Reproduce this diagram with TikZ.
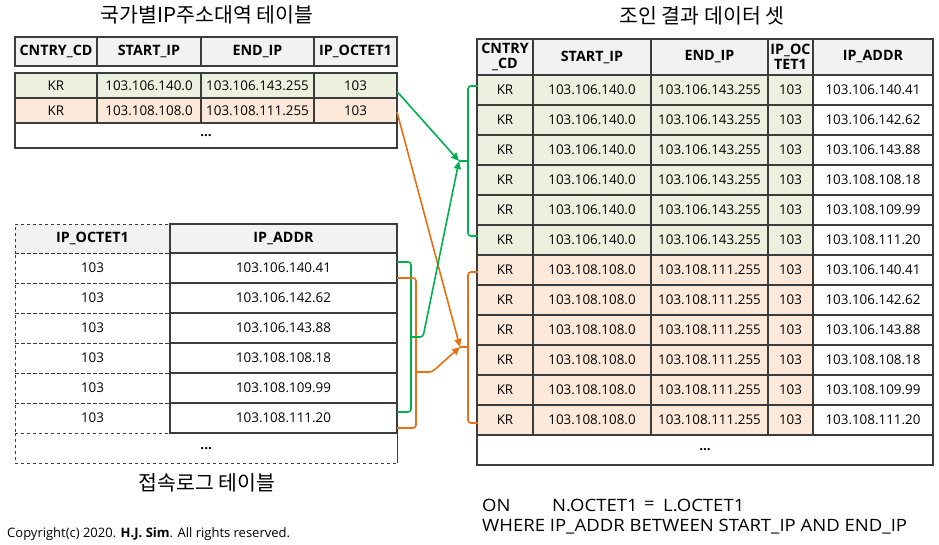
\documentclass[tikz,border=0pt]{standalone}
\usepackage{fontspec}
\setmainfont{Open Sans}
\newfontfamily\kr{Noto Sans CJK KR}
\newfontfamily\widefont{Open Sans}[FakeStretch=1.09]
\usetikzlibrary{arrows.meta,calc}
\definecolor{gfill}{RGB}{235,241,222}
\definecolor{ofill}{RGB}{253,233,217}
\definecolor{hfill}{RGB}{242,242,242}
\definecolor{gline}{RGB}{0,176,80}
\definecolor{oline}{RGB}{232,112,20}
\definecolor{bord}{RGB}{60,60,60}
\tikzset{
 cell/.style={draw=bord, line width=1.3pt, inner sep=0pt, outer sep=0pt, anchor=north west, font=\fontsize{13.4}{14}\selectfont, align=center},
 hcell/.style={cell, fill=hfill, font=\fontsize{14.3}{15}\selectfont\bfseries},
 dcell/.style={cell, dashed, line width=1pt},
 conn/.style={line width=1.6pt, rounded corners=3pt},
 tip/.style={-{Triangle[length=8pt,width=7pt]}},
 ktitle/.style={font=\kr\fontsize{20.5}{22}\selectfont},
 sqltext/.style={anchor=west, inner sep=0pt, font=\widefont\fontsize{17}{19}\selectfont},
}
\newcommand\cellbox[6]{\node[#1, minimum width=#4pt, minimum height=#5pt] (#2) at (#3) {#6};}
\begin{document}
\begin{tikzpicture}[x=1pt,y=-1pt]
\useasboundingbox[fill=white] (0,0) rectangle (939,544);
% ---------- top-left table ----------
\node[ktitle] (t1title) at (207,15) {국가별IP주소대역 테이블};
\cellbox{hcell}{ah1}{15,37}{82}{29}{CNTRY\_CD}
\cellbox{hcell}{ah2}{97,37}{104}{29}{START\_IP}
\cellbox{hcell}{ah3}{201,37}{113}{29}{END\_IP}
\cellbox{hcell}{ah4}{314,37}{83}{29}{IP\_OCTET1}
\cellbox{cell,fill=gfill}{aa1}{15,73}{82}{25}{KR}
\cellbox{cell,fill=gfill}{aa2}{97,73}{104}{25}{103.106.140.0}
\cellbox{cell,fill=gfill}{aa3}{201,73}{113}{25}{103.106.143.255}
\cellbox{cell,fill=gfill}{aa4}{314,73}{83}{25}{103}
\cellbox{cell,fill=ofill}{ab1}{15,98}{82}{25}{KR}
\cellbox{cell,fill=ofill}{ab2}{97,98}{104}{25}{103.108.108.0}
\cellbox{cell,fill=ofill}{ab3}{201,98}{113}{25}{103.108.111.255}
\cellbox{cell,fill=ofill}{ab4}{314,98}{83}{25}{103}
\cellbox{cell}{adots}{15,123}{382}{25}{\textbf{...}}
% ---------- bottom-left table ----------
\cellbox{dcell,fill=hfill,font=\fontsize{14.3}{15}\selectfont\bfseries}{bh1}{15,224}{155}{29}{IP\_OCTET1}
\foreach \i in {0,...,5}{
  \cellbox{dcell}{bl\i}{15,253+30*\i}{155}{30}{103}
}
\node[inner sep=0pt, minimum width=382pt, minimum height=30pt, anchor=north west, font=\fontsize{13.4}{14}\selectfont] (bdots) at (15,433) {\textbf{...}};
\draw[bord, dashed, line width=1pt] (bdots.north west) -- (bdots.south west) -- (bdots.south east);
\draw[bord, line width=1.3pt] (bdots.north east) -- (bdots.south east);
\cellbox{hcell}{bh2}{170,224}{227}{29}{IP\_ADDR}
\foreach \i/\ip in {0/103.106.140.41,1/103.106.142.62,2/103.106.143.88,3/103.108.108.18,4/103.108.109.99,5/103.108.111.20}{
  \cellbox{cell}{br\i}{170,253+30*\i}{227}{30}{\ip}
}
\node[ktitle] (t2title) at (207,483) {접속로그 테이블};
% ---------- right table ----------
\node[ktitle] (t3title) at (702,16) {조인 결과 데이터 셋};
\cellbox{hcell}{ch1}{477,39}{56}{36}{CNTRY\\\_CD}
\cellbox{hcell}{ch2}{533,39}{118}{36}{START\_IP}
\cellbox{hcell}{ch3}{651,39}{117}{36}{END\_IP}
\cellbox{hcell}{ch4}{768,39}{45}{36}{IP\_OC\\TET1}
\cellbox{hcell}{ch5}{813,39}{120}{36}{IP\_ADDR}
\foreach \k/\ip in {0/103.106.140.41,1/103.106.142.62,2/103.106.143.88,3/103.108.108.18,4/103.108.109.99,5/103.108.111.20}{
  \cellbox{cell,fill=gfill}{cg\k a}{477,75+30*\k}{56}{30}{KR}
  \cellbox{cell,fill=gfill}{cg\k b}{533,75+30*\k}{118}{30}{103.106.140.0}
  \cellbox{cell,fill=gfill}{cg\k c}{651,75+30*\k}{117}{30}{103.106.143.255}
  \cellbox{cell,fill=gfill}{cg\k d}{768,75+30*\k}{45}{30}{103}
  \cellbox{cell}{cg\k e}{813,75+30*\k}{120}{30}{\ip}
  \cellbox{cell,fill=ofill}{co\k a}{477,255+30*\k}{56}{30}{KR}
  \cellbox{cell,fill=ofill}{co\k b}{533,255+30*\k}{118}{30}{103.108.108.0}
  \cellbox{cell,fill=ofill}{co\k c}{651,255+30*\k}{117}{30}{103.108.111.255}
  \cellbox{cell,fill=ofill}{co\k d}{768,255+30*\k}{45}{30}{103}
  \cellbox{cell}{co\k e}{813,255+30*\k}{120}{30}{\ip}
}
\cellbox{cell}{cdots}{477,435}{456}{30}{\textbf{...}}
% ---------- texts ----------
\node[sqltext] (on) at (482,505) {ON};
\node[sqltext] (oncond) at (552,505) {N.OCTET1};
\node[sqltext] (oneq) at (644,505) {=};
\node[sqltext] (oncond2) at (663,505) {L.OCTET1};
\node[sqltext] (where) at (482,527) {WHERE IP\_ADDR BETWEEN START\_IP AND END\_IP};
\node[anchor=west, inner sep=0pt, font=\fontsize{13}{15}\selectfont] (copy) at (7,534) {Copyright(c) 2020. \textbf{H.J. Sim}. All rights reserved.};
% ---------- connectors ----------
\coordinate (gtip) at (459,161);
\coordinate (otip) at (460,347);
% right brackets
\draw[conn, gline] ($(cg0a.west)+(1,-4)$) -- (468,86) -- (468,236) -- ($(cg5a.west)+(1,-4)$);
\draw[conn, gline] (468,161) -- (gtip);
\draw[conn, oline] ($(co0a.west)+(1,2)$) -- (468,272) -- (468,423) -- ($(co5a.west)+(1,3)$);
\draw[conn, oline] (468,347) -- (otip);
% left brackets
\draw[conn, gline] ($(br0.east)+(0,-6)$) -- (411,262) -- (411,412) -- ($(br5.east)+(0,-6)$);
\draw[conn, oline] ($(br0.east)+(0,10)$) -- (416,278) -- (416,428) -- ($(br5.east)+(0,10)$);
% arrows
\draw[conn, gline, tip] ($(aa4.east)+(0,6)$) -- (gtip);
\draw[conn, oline, tip] ($(ab4.east)+(0,1.5)$) -- (otip);
\draw[conn, gline, tip] (411,337) -- (423,337) -- (gtip);
\draw[conn, oline, tip] (416,372) -- (432,372) -- (otip);
\end{tikzpicture}
\end{document}
